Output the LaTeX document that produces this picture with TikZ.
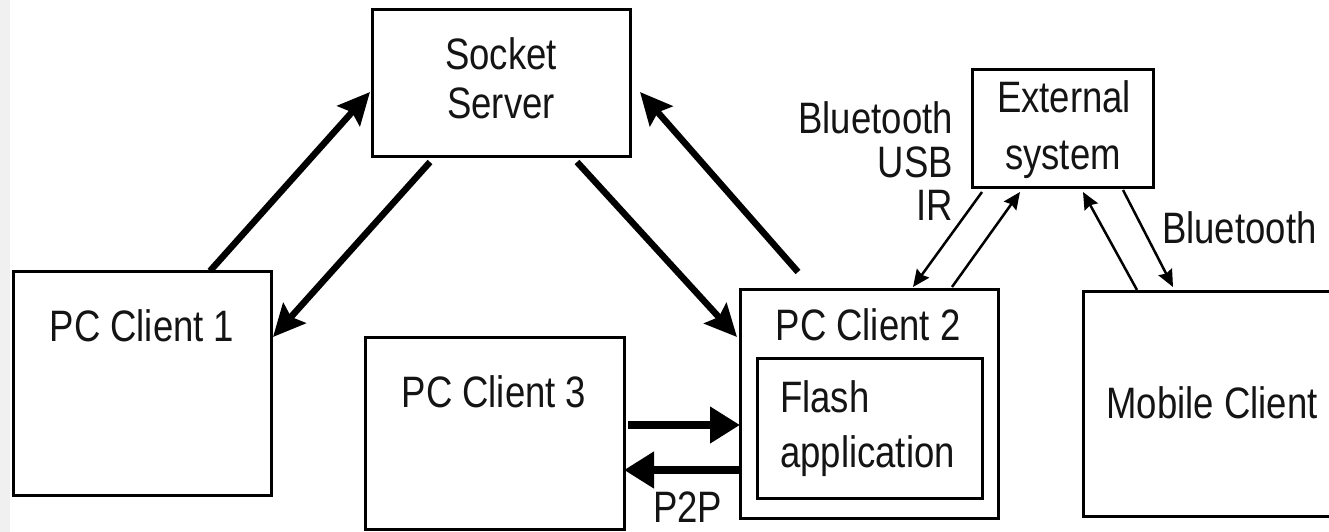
\documentclass[tikz,border=0pt]{standalone}
\usepackage{fontspec}
\setmainfont{Liberation Sans}[FakeStretch=0.83]
\usetikzlibrary{arrows.meta,calc}
\begin{document}
\begin{tikzpicture}[x=1pt,y=-1pt,
  box/.style={draw=black, line width=3pt, rectangle, inner sep=0pt, outer sep=0pt},
  lbl/.style={font=\fontsize{44}{44}\selectfont, inner sep=0pt, anchor=base, text=black!92},
  fatarr/.style={line width=6.5pt, -{Stealth[length=32pt,width=30pt,inset=5pt]}},
  ptparr/.style={line width=8pt, -{Triangle[length=30pt,width=35pt]}},
  thinarr/.style={line width=2.5pt, -{Stealth[length=17pt,width=15pt,inset=2pt]}}
]
\useasboundingbox (0,0) rectangle (1329,532);
\fill[white] (0,0) rectangle (1329,532);
\fill[gray!12] (0,0) rectangle (10,532);

% boxes
\node[box, minimum width=258pt, minimum height=146pt] (ss) at (501,83) {};
\node[box, minimum width=258pt, minimum height=224pt] (pc1) at (142,383) {};
\node[box, minimum width=259pt, minimum height=192pt] (pc3) at (494.5,433) {};
\node[box, minimum width=258pt, minimum height=229pt] (pc2) at (869,403.5) {};
\node[box, minimum width=225pt, minimum height=140pt] (flash) at (869.5,428) {};
\node[box, minimum width=181pt, minimum height=117pt] (ext) at (1062.5,128.5) {};
\node[box, minimum width=262pt, minimum height=225pt] (mob) at (1214,403.5) {};

% texts
\node[lbl] (ssA) at (501,70) {Socket};
\node[lbl] (ssB) at (501,118) {Server};
\node[lbl] (pc1T) at (142,341) {PC Client 1};
\node[lbl] (pc3T) at (494,407) {PC Client 3};
\node[lbl] (pc2T) at (868,340) {PC Client 2};
\node[lbl, anchor=base west] (flA) at (780,412) {Flash};
\node[lbl, anchor=base west] (flB) at (780,467) {application};
\node[lbl] (extA) at (1064,113) {External};
\node[lbl] (extB) at (1063,169) {system};
\node[lbl] (mobT) at (1212,418) {Mobile Client};
\node[lbl, anchor=base east] (l1) at (953,133) {Bluetooth};
\node[lbl, anchor=base east] (l2) at (953,177) {USB};
\node[lbl, anchor=base east] (l3) at (953,220) {IR};
\node[lbl, anchor=base west] (bt) at (1162,243) {Bluetooth};
\node[lbl, anchor=base west] (p2p) at (653,522) {P2P};

% socket server <-> PC client 1
\draw[fatarr] ($(pc1.north west)+(197,0)$) -- ($(ss.west)+(-2,9)$);
\draw[fatarr] ($(ss.south west)+(58,6)$) -- ($(pc1.north east)+(2,66)$);

% socket server <-> PC client 2
\draw[fatarr] ($(ss.south west)+(205,6)$) -- ($(pc2.north west)+(-3,48)$);
\coordinate (dstart) at ($(pc2.north west)+(58,-17)$);
\draw[fatarr] (dstart) -- ($(ss.east)+(10,9)$);

% P2P
\coordinate (p2pa) at ($(pc3.east)+(4,-8)$);
\draw[ptparr] (p2pa) -- (p2pa -| pc2.west);
\coordinate (p2pb) at ($(pc2.west)+(0,66.5)$);
\draw[ptparr] (p2pb) -- (p2pb -| pc3.east);

% external <-> PC client 2
\draw[thinarr] ($(ext.south west)+(10,5)$) -- ($(pc2.north west)+(173,-2)$);
\draw[thinarr] ($(pc2.north west)+(212,-2)$) -- ($(ext.south west)+(48,5)$);

% external <-> mobile
\draw[thinarr] ($(mob.north west)+(54,-1)$) -- ($(ext.south west)+(111,5)$);
\draw[thinarr] ($(ext.south west)+(151,3)$) -- ($(mob.north west)+(90,-4)$);
\end{tikzpicture}
\end{document}
